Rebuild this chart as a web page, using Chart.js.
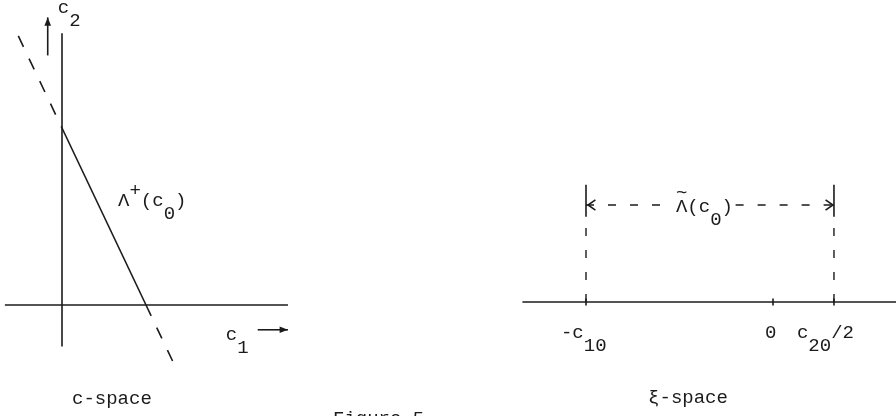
<!DOCTYPE html>
<html>
<head>
<meta charset="utf-8">
<script src="https://cdn.jsdelivr.net/npm/chart.js@4"></script>
<style>
  body { margin: 0; background: #fff; }
  #wrap { width: 896px; height: 416px; display: flex; background: #fff; }
  canvas { display: block; }
</style>
</head>
<body>
<div id="wrap">
  <canvas id="cspace" width="448" height="416"></canvas>
  <canvas id="xispace" width="448" height="416"></canvas>
</div>
<script>
// c-space (units: c1, c2)
const c10 = 1;               // c1 intercept of the line
const c20 = 2;               // c2 intercept of the line
const lineX = [0, c10];
const lineY = [c20, 0];
const dashUpX = [-0.52, 0];
const dashUpY = [3.04, c20];
const dashDownX = [c10, 1.37];
const dashDownY = [0, -0.74];
const c1Axis = [-0.68, 2.69];
const c2Axis = [-0.47, 3.07];
const c1Arrow = [2.33, 2.69];   // drawn at c2 = c1ArrowAt
const c1ArrowAt = -0.28;
const c2Arrow = [2.82, 3.25];   // drawn at c1 = c2ArrowAt
const c2ArrowAt = -0.17;

// xi-space (units: xi)
const xiTicks = [-1, 0, 0.326];
const xiTickLabels = [[['-c', 0], ['10', 1]], [['0', 0]], [['c', 0], ['20', 1], ['/2', 0]]];
const xiAxis = [-1.34, 0.66];
const bracketLevel = 1;
const bracketLeft = [-1, -0.54];
const bracketRight = [-0.2, 0.326];
const barTop = 1.21;
const barSolidEnd = 0.88;

const INK = '#1b1b1b';
const FONT = '19px "Liberation Mono", "DejaVu Sans Mono", monospace';

const seg = (xs, ys, dash, width) => ({
  data: xs.map((x, i) => ({ x: x, y: ys[i] })),
  showLine: true,
  pointRadius: 0,
  borderColor: INK,
  borderWidth: width || 1.6,
  borderDash: dash || [],
  fill: false,
});

// draws text made of pieces, shift 1 = subscript, -1 = superscript
const drawParts = (ctx, x, y, parts) => {
  ctx.font = FONT;
  ctx.fillStyle = INK;
  ctx.textBaseline = 'alphabetic';
  ctx.textAlign = 'left';
  let cx = x;
  parts.forEach(p => {
    const dy = p[1] === 1 ? 13 : p[1] === -1 ? -10 : 0;
    ctx.fillText(p[0], cx, y + dy);
    cx += ctx.measureText(p[0]).width;
  });
};

const drawArrow = (ctx, tx, ty, fx, fy, filled) => {
  const a = Math.atan2(ty - fy, tx - fx);
  const len = filled ? 9 : 9;
  const spread = filled ? 0.38 : 0.6;
  ctx.strokeStyle = INK;
  ctx.fillStyle = INK;
  ctx.lineWidth = 1.6;
  ctx.beginPath();
  ctx.moveTo(tx - len * Math.cos(a - spread), ty - len * Math.sin(a - spread));
  ctx.lineTo(tx, ty);
  ctx.lineTo(tx - len * Math.cos(a + spread), ty - len * Math.sin(a + spread));
  if (filled) { ctx.closePath(); ctx.fill(); } else { ctx.stroke(); }
};

const makeChart = (id, datasets, xr, yr, extras) => {
  new Chart(document.getElementById(id), {
    type: 'scatter',
    data: { datasets: datasets },
    options: {
      responsive: false,
      animation: false,
      events: [],
      layout: { padding: 0 },
      plugins: { legend: { display: false }, tooltip: { enabled: false } },
      scales: {
        x: { type: 'linear', min: xr[0], max: xr[1], display: false },
        y: { type: 'linear', min: yr[0], max: yr[1], display: false },
      },
    },
    plugins: [{
      id: 'extras',
      afterDraw(chart) {
        const sx = chart.scales.x, sy = chart.scales.y;
        const px = v => sx.getPixelForValue(v);
        const py = v => sy.getPixelForValue(v);
        extras(chart.ctx, px, py);
      },
    }],
  });
};

// left panel
makeChart('cspace', [
  seg(c1Axis, [0, 0]),
  seg([0, 0], c2Axis),
  seg(lineX, lineY),
  seg(dashUpX, dashUpY, [12, 13]),
  seg(dashDownX, dashDownY, [12, 13]),
  seg(c1Arrow, [c1ArrowAt, c1ArrowAt]),
  seg([c2ArrowAt, c2ArrowAt], c2Arrow),
], [-62 / 84, 386 / 84], [-111 / 88.5, 305 / 88.5], (ctx, px, py) => {
  drawArrow(ctx, px(c1Arrow[1]), py(c1ArrowAt), px(c1Arrow[0]), py(c1ArrowAt), true);
  drawArrow(ctx, px(c2ArrowAt), py(c2Arrow[1]), px(c2ArrowAt), py(c2Arrow[0]), true);
  drawParts(ctx, px(-0.05), py(3.30), [['c', 0], ['2', 1]]);
  drawParts(ctx, px(1.95), py(-0.395), [['c', 0], ['1', 1]]);
  drawParts(ctx, px(0.667), py(1.119), [['Λ', 0], ['+', -1], ['(c', 0], ['0', 1], [')', 0]]);
  drawParts(ctx, px(0.119), py(-1.119), [['c-space', 0]]);
  drawParts(ctx, px(3.226), py(-1.345), [['Figure 5', 0]]);
});

// right panel
const xiSets = [
  seg(xiAxis, [0, 0]),
  seg(bracketLeft, [bracketLevel, bracketLevel], [8, 14]),
  seg(bracketRight, [bracketLevel, bracketLevel], [8, 14], 1.4),
];
[xiTicks[0], xiTicks[2]].forEach(t => {
  xiSets.push(seg([t, t], [0, barSolidEnd], [8, 14], 1.4));
  xiSets.push(seg([t, t], [barSolidEnd, barTop]));
});
xiTicks.forEach(t => xiSets.push(seg([t, t], [-0.035, 0.035])));

makeChart('xispace', xiSets, [-325 / 187, 123 / 187], [-114 / 97, 302 / 97], (ctx, px, py) => {
  const yb = py(bracketLevel);
  drawArrow(ctx, px(bracketLeft[0]) + 2, yb, px(bracketLeft[0]) + 12, yb, false);
  drawArrow(ctx, px(bracketRight[1]) - 1, yb, px(bracketRight[1]) - 12, yb, false);
  const lx = px(-0.519), ly = py(0.928);
  drawParts(ctx, lx, ly, [['Λ', 0], ['(c', 0], ['0', 1], [')', 0]]);
  drawParts(ctx, lx, ly - 14, [['~', 0]]);
  const tickStarts = [-1.134, -0.043, 0.128];
  xiTickLabels.forEach((parts, i) => drawParts(ctx, px(tickStarts[i]), py(-0.371), parts));
  drawParts(ctx, px(-0.668), py(-1.041), [['ξ-space', 0]]);
});
</script>
</body>
</html>
